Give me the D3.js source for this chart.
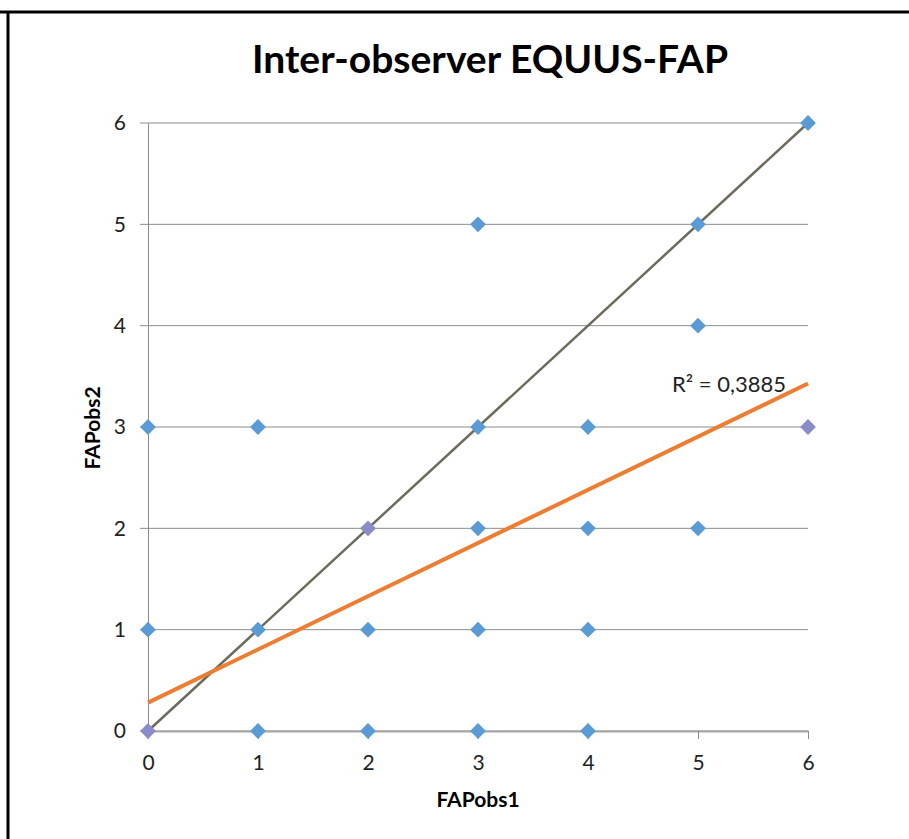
<!DOCTYPE html>
<html>
<head>
<meta charset="utf-8">
<script src="https://cdn.jsdelivr.net/npm/d3@7"></script>
<style>
  body { margin: 0; background: #fff; }
  svg { display: block; font-family: Lato, "Open Sans", sans-serif; }
</style>
</head>
<body>
<svg id="chart"></svg>
<script>
// observer 1 / observer 2 scores
var obs1 = [0, 0, 0, 1, 1, 1, 2, 2, 2, 3, 3, 3, 3, 3, 4, 4, 4, 4, 5, 5, 5, 6, 6]
var obs2 = [0, 1, 3, 0, 1, 3, 0, 1, 2, 0, 1, 2, 3, 5, 0, 1, 2, 3, 2, 4, 5, 3, 6]
// points drawn with the overlapping (purple) tint
var overlapped = [0, 8, 21]
var ticks = [0, 1, 2, 3, 4, 5, 6]
var trendIntercept = 0.28
var trendSlope = 0.525
var identity = [0, 6]
var r2Label = 'R² = 0,3885'

var width = 909, height = 839
var svg = d3.select('#chart').attr('width', width).attr('height', height)

// outer frame (only top and left edges show)
svg.append('line').attr('x1', 0).attr('x2', width).attr('y1', 12).attr('y2', 12)
  .attr('stroke', '#000').attr('stroke-width', 3)
svg.append('line').attr('x1', 8).attr('x2', 8).attr('y1', 12).attr('y2', height)
  .attr('stroke', '#000').attr('stroke-width', 3)

var x = d3.scaleLinear().domain([0, 6]).range([148, 808])
var y = d3.scaleLinear().domain([0, 6]).range([731, 123])

// gridlines
svg.append('g').selectAll('line')
  .data(ticks)
  .enter().append('line')
  .attr('x1', x(0) - 8).attr('x2', x(6))
  .attr('y1', function(d) { return y(d) }).attr('y2', function(d) { return y(d) })
  .attr('stroke', '#8c8c8c').attr('stroke-width', 1)

// y axis
var yAxis = svg.append('g').attr('transform', 'translate(' + x(0) + ',0)')
  .call(d3.axisLeft(y).tickValues(ticks).tickSize(0).tickPadding(22).tickFormat(d3.format('d')))
yAxis.select('.domain').attr('stroke', '#8c8c8c')
yAxis.selectAll('text').attr('font-size', 21).attr('fill', '#222').attr('font-family', 'Lato, sans-serif')

// x axis
var xAxis = svg.append('g').attr('transform', 'translate(0,' + y(0) + ')')
  .call(d3.axisBottom(x).tickValues(ticks).tickSize(8).tickSizeOuter(0).tickPadding(16).tickFormat(d3.format('d')))
xAxis.select('.domain').attr('stroke', '#a6a6a6').attr('stroke-width', 2)
xAxis.selectAll('line').attr('stroke', '#8c8c8c')
xAxis.selectAll('text').attr('font-size', 21).attr('fill', '#222').attr('font-family', 'Lato, sans-serif')

// identity line
svg.append('line')
  .attr('x1', x(identity[0])).attr('y1', y(identity[0]))
  .attr('x2', x(identity[1])).attr('y2', y(identity[1]))
  .attr('stroke', '#6b6b5c').attr('stroke-width', 2.5)

// linear trend line
svg.append('line')
  .attr('x1', x(0)).attr('y1', y(trendIntercept))
  .attr('x2', x(6)).attr('y2', y(trendIntercept + trendSlope * 6))
  .attr('stroke', '#ed7d31').attr('stroke-width', 4)

// points
var sym = d3.symbol().type(d3.symbolSquare).size(125)
svg.append('g').selectAll('path')
  .data(d3.range(obs1.length))
  .enter().append('path')
  .attr('d', sym)
  .attr('transform', function(i) { return 'translate(' + x(obs1[i]) + ',' + y(obs2[i]) + ') rotate(45)' })
  .attr('fill', function(i) { return overlapped.indexOf(i) >= 0 ? '#8a8cc8' : '#5b9bd5' })

// texts
svg.append('text')
  .attr('x', 490).attr('y', 73)
  .attr('text-anchor', 'middle')
  .attr('font-size', 39).attr('font-weight', 'bold').attr('fill', '#000')
  .text('Inter-observer EQUUS-FAP')

svg.append('text')
  .attr('x', 729).attr('y', 392)
  .attr('text-anchor', 'middle')
  .attr('font-size', 22).attr('fill', '#222')
  .text(r2Label)

svg.append('text')
  .attr('x', 478).attr('y', 807)
  .attr('text-anchor', 'middle')
  .attr('font-size', 21).attr('font-weight', 'bold').attr('fill', '#000')
  .text('FAPobs1')

svg.append('text')
  .attr('transform', 'translate(100,428) rotate(-90)')
  .attr('text-anchor', 'middle')
  .attr('font-size', 21).attr('font-weight', 'bold').attr('fill', '#000')
  .text('FAPobs2')
</script>
</body>
</html>
